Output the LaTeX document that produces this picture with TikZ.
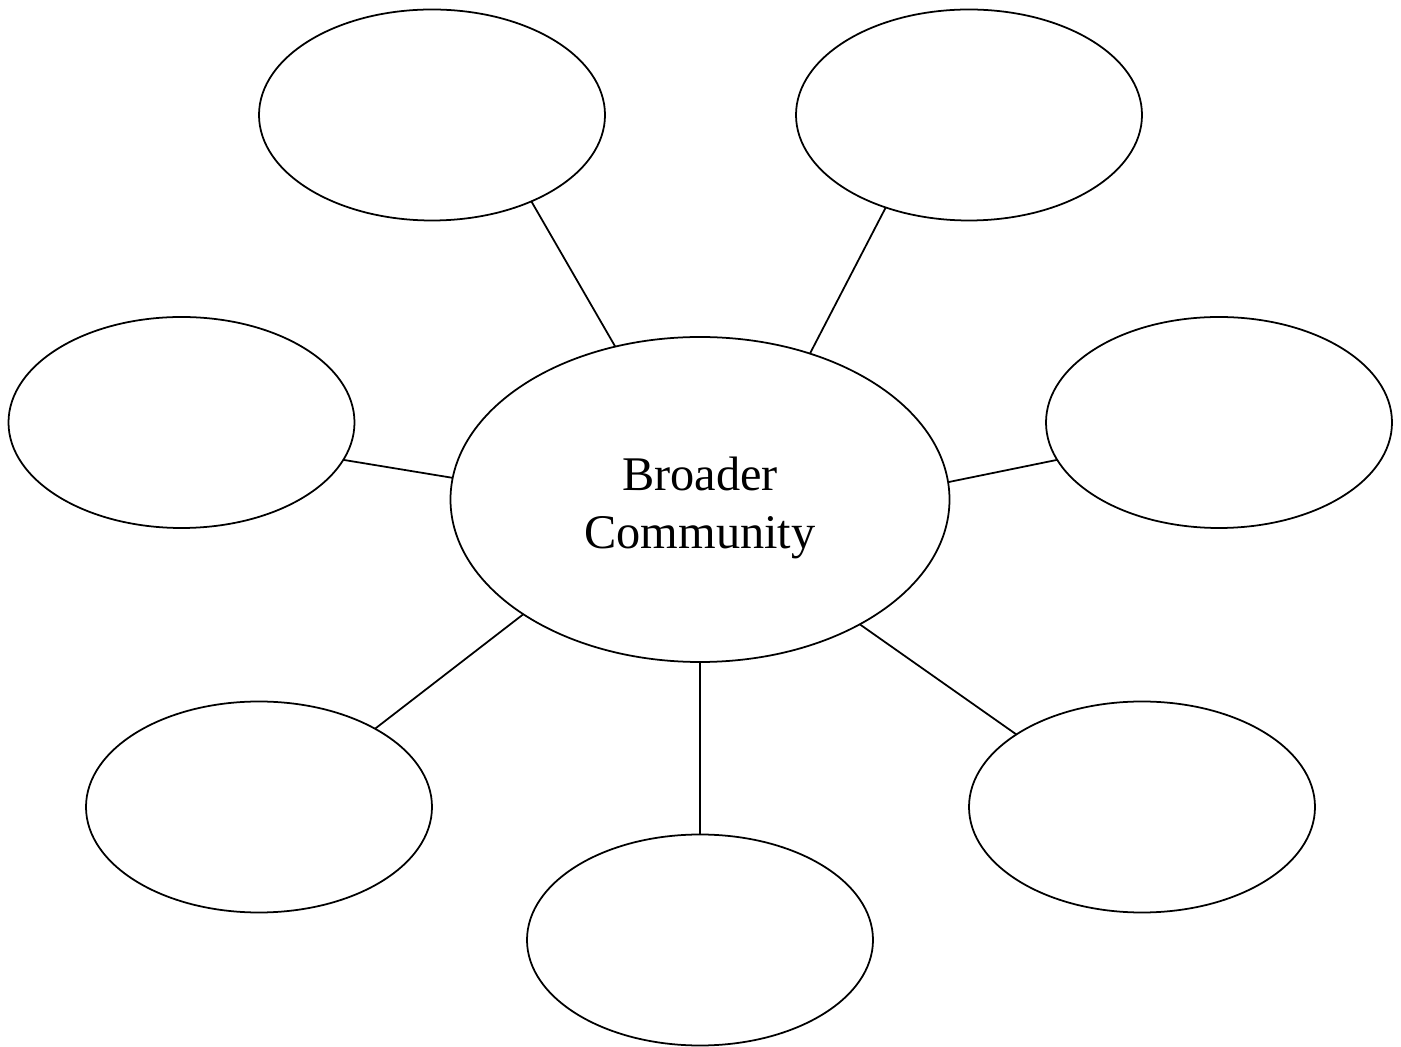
\documentclass[tikz,border=0pt]{standalone}
\usepackage{fontspec}
\setmainfont{Liberation Serif}
\usetikzlibrary{shapes.geometric}
\begin{document}
\begin{tikzpicture}[
  bubble/.style={draw, ellipse, line width=1pt, inner sep=0pt, outer sep=0pt,
    minimum width=6.92cm, minimum height=4.22cm},
  hub/.style={draw, ellipse, line width=1pt, inner sep=0pt, outer sep=0pt,
    minimum width=9.98cm, minimum height=6.5cm},
  hubtext/.style={align=center, inner sep=0pt, yshift=-0.17cm,
    font=\fontsize{27.5}{32.5}\selectfont},
  spoke/.style={line width=1pt}
]
\useasboundingbox (0,0) rectangle (28.02,20.92);

\node[hub, label={[hubtext]center:Broader\\Community}] (c) at (14.00,10.93) {};

\node[bubble] (tl) at (8.64,18.62) {};
\node[bubble] (tr) at (19.38,18.62) {};
\node[bubble] (l)  at (3.63,12.47) {};
\node[bubble] (r)  at (24.38,12.47) {};
\node[bubble] (bl) at (5.18,4.78) {};
\node[bubble] (br) at (22.84,4.78) {};
\node[bubble] (b)  at (14.00,2.12) {};

\draw[spoke] (c.119)   -- (tl.-41.3);
\draw[spoke] (c.53.5)  -- (tr.228.9);
\draw[spoke] (c.175.5) -- (l.-13.4);
\draw[spoke] (c.4.9)   -- (r.193.1);
\draw[spoke] (c.213.8) -- (bl.34.3);
\draw[spoke] (c.south) -- (b.north);
\draw[spoke] (c.322.1) -- (br.150.8);
\end{tikzpicture}
\end{document}
